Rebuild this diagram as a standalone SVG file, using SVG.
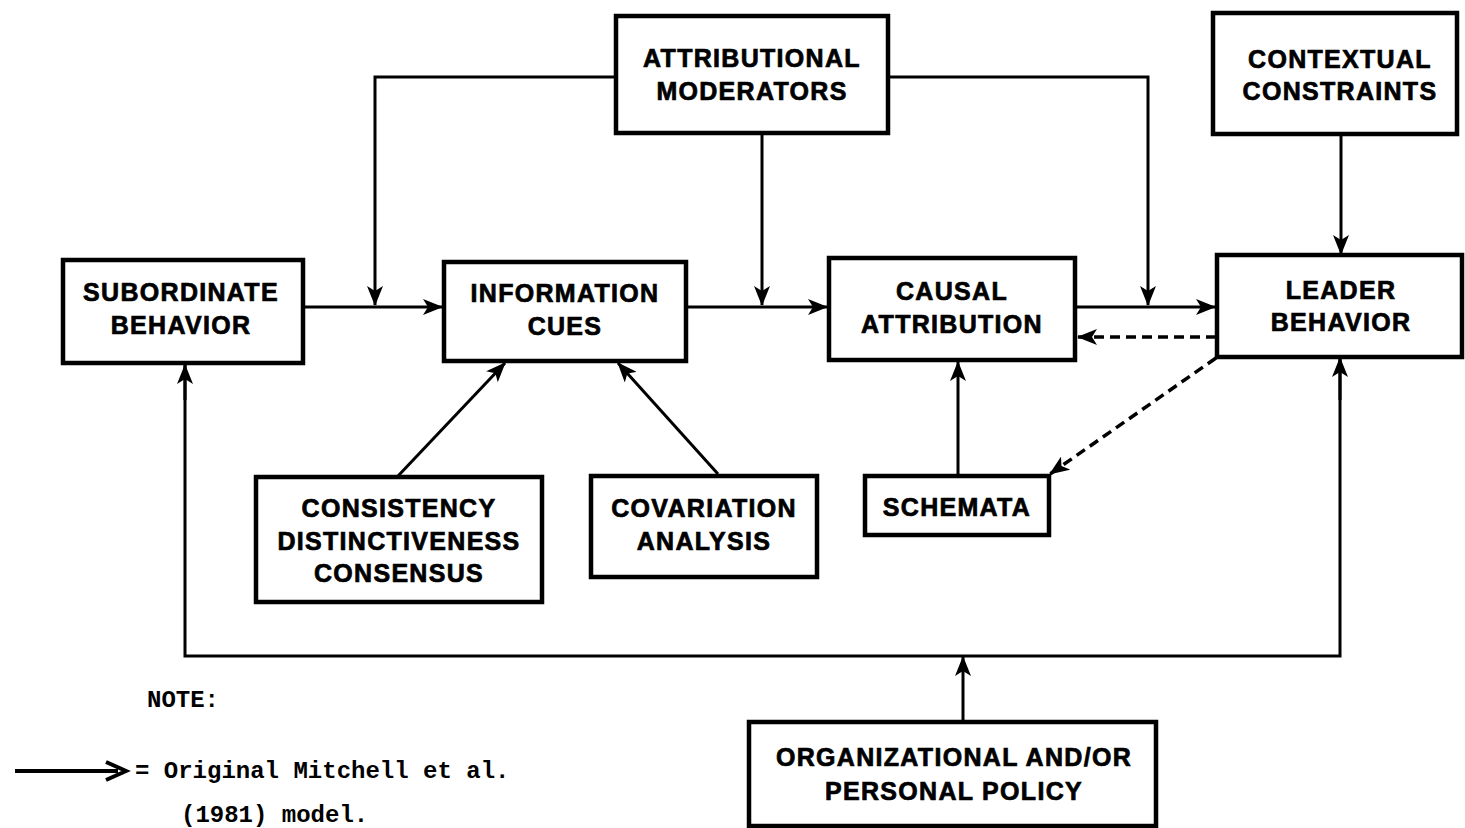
<svg xmlns="http://www.w3.org/2000/svg" width="1465" height="828" viewBox="0 0 1465 828">
<defs>
<style>
.box{fill:#fff;stroke:#000;stroke-width:4.5}
.lbl{font-family:"Liberation Sans",Arial,sans-serif;font-weight:bold;font-size:25px;letter-spacing:1.3px;text-anchor:middle;fill:#000;stroke:#000;stroke-width:0.7}
.ln{fill:none;stroke:#000;stroke-width:3}
.dash{fill:none;stroke:#000;stroke-width:3.5;stroke-dasharray:10 6}
.mono{font-family:"Liberation Mono","Courier New",monospace;font-weight:bold;font-size:24px;fill:#000}
</style>
<marker id="ah" viewBox="0 0 20 16" refX="19" refY="8" markerWidth="20" markerHeight="16" markerUnits="userSpaceOnUse" orient="auto">
<path d="M0,0 L20,8 L0,16 L5,8 Z" fill="#000"/>
</marker>
</defs>
<rect width="1465" height="828" fill="#fff"/>
<g id="connectors">
<line class="ln" x1="304" y1="307" x2="442" y2="307" marker-end="url(#ah)"/>
<polyline class="ln" points="615,77 375,77 375,305" marker-end="url(#ah)"/>
<line class="ln" x1="762" y1="133" x2="762" y2="305" marker-end="url(#ah)"/>
<line class="ln" x1="686" y1="307" x2="827" y2="307" marker-end="url(#ah)"/>
<polyline class="ln" points="888,77 1148,77 1148,305" marker-end="url(#ah)"/>
<line class="ln" x1="1075" y1="307" x2="1215" y2="307" marker-end="url(#ah)"/>
<line class="dash" x1="1216" y1="337" x2="1078" y2="337" marker-end="url(#ah)"/>
<line class="dash" x1="1216" y1="358" x2="1050" y2="474" marker-end="url(#ah)"/>
<line class="ln" x1="1341" y1="135" x2="1341" y2="254" marker-end="url(#ah)"/>
<line class="ln" x1="398" y1="476" x2="505" y2="363" marker-end="url(#ah)"/>
<line class="ln" x1="718" y1="474" x2="618" y2="363" marker-end="url(#ah)"/>
<line class="ln" x1="958" y1="475" x2="958" y2="362" marker-end="url(#ah)"/>
<polyline class="ln" points="185,365 185,656 1340,656 1340,358"/>
<line class="ln" x1="185" y1="400" x2="185" y2="365" marker-end="url(#ah)"/>
<line class="ln" x1="1340" y1="400" x2="1340" y2="358" marker-end="url(#ah)"/>
<line class="ln" x1="963" y1="720" x2="963" y2="657" marker-end="url(#ah)"/>
</g>
<g id="attributional-moderators">
<rect class="box" x="616" y="16" width="272" height="117"/>
<text class="lbl" x="752" y="67">ATTRIBUTIONAL</text>
<text class="lbl" x="752" y="100">MODERATORS</text>
</g>
<g id="contextual-constraints">
<rect class="box" x="1213" y="13" width="244" height="121"/>
<text class="lbl" x="1340" y="68">CONTEXTUAL</text>
<text class="lbl" x="1340" y="100">CONSTRAINTS</text>
</g>
<g id="subordinate-behavior">
<rect class="box" x="63" y="260" width="240" height="103"/>
<text class="lbl" x="181" y="301">SUBORDINATE</text>
<text class="lbl" x="181" y="334">BEHAVIOR</text>
</g>
<g id="information-cues">
<rect class="box" x="444" y="262" width="242" height="99"/>
<text class="lbl" x="565" y="302">INFORMATION</text>
<text class="lbl" x="565" y="335">CUES</text>
</g>
<g id="causal-attribution">
<rect class="box" x="829" y="258" width="246" height="102"/>
<text class="lbl" x="952" y="300">CAUSAL</text>
<text class="lbl" x="952" y="333">ATTRIBUTION</text>
</g>
<g id="leader-behavior">
<rect class="box" x="1217" y="255" width="245" height="102"/>
<text class="lbl" x="1341" y="299">LEADER</text>
<text class="lbl" x="1341" y="331">BEHAVIOR</text>
</g>
<g id="consistency">
<rect class="box" x="256" y="477" width="286" height="125"/>
<text class="lbl" x="399" y="517">CONSISTENCY</text>
<text class="lbl" x="399" y="550">DISTINCTIVENESS</text>
<text class="lbl" x="399" y="582">CONSENSUS</text>
</g>
<g id="covariation-analysis">
<rect class="box" x="591" y="476" width="226" height="101"/>
<text class="lbl" x="704" y="517">COVARIATION</text>
<text class="lbl" x="704" y="550">ANALYSIS</text>
</g>
<g id="schemata">
<rect class="box" x="865" y="476" width="184" height="59"/>
<text class="lbl" x="957" y="516">SCHEMATA</text>
</g>
<g id="organizational-policy">
<rect class="box" x="749" y="722" width="407" height="104"/>
<text class="lbl" x="954" y="766">ORGANIZATIONAL AND/OR</text>
<text class="lbl" x="954" y="800">PERSONAL POLICY</text>
</g>
<g id="legend">
<text class="mono" x="147" y="707">NOTE:</text>
<line x1="15" y1="771" x2="118" y2="771" stroke="#000" stroke-width="4"/>
<polyline points="106,762 126,771 106,780" fill="none" stroke="#000" stroke-width="4"/>
<text class="mono" x="135" y="778">= Original Mitchell et al.</text>
<text class="mono" x="181" y="822">(1981) model.</text>
</g>
</svg>
